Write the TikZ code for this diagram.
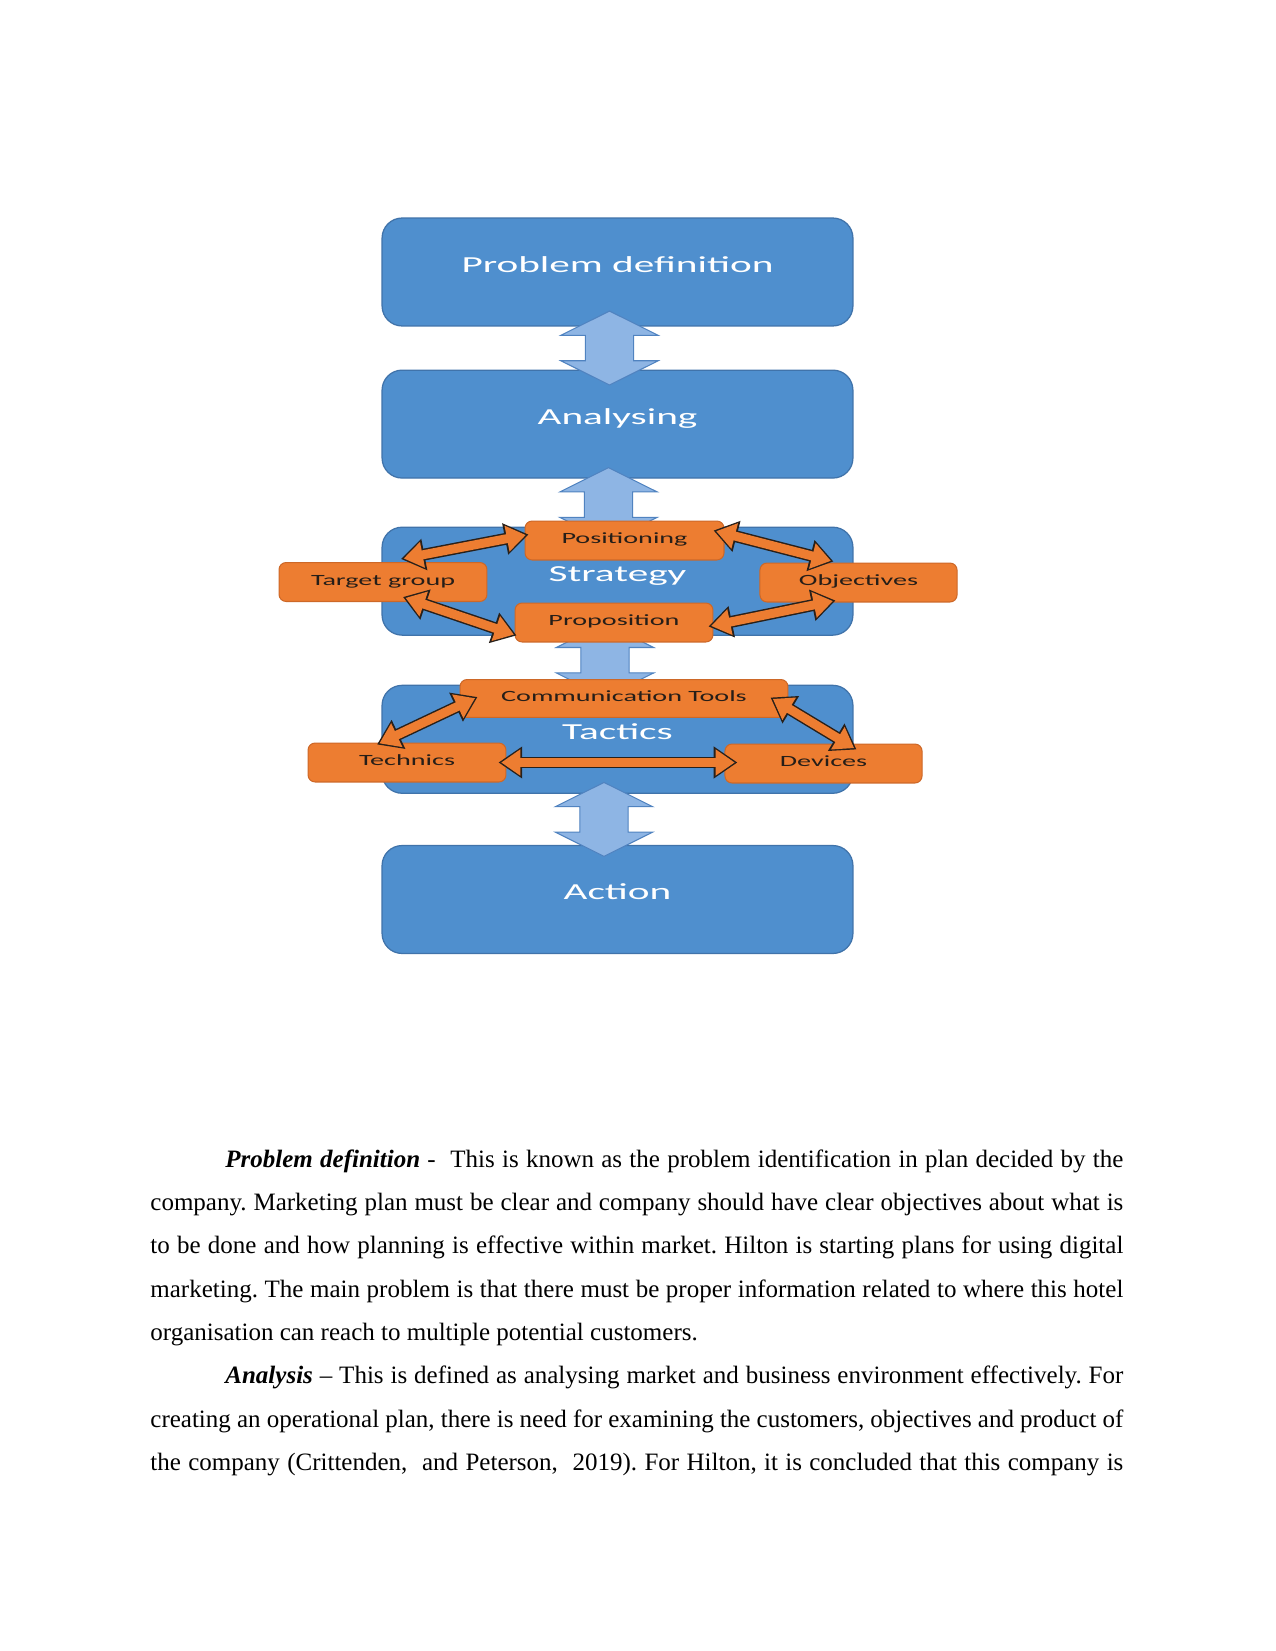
\documentclass[tikz,border=0pt]{standalone}
\usepackage{fontspec}
\setmainfont{Liberation Serif}
\newfontfamily\boxfont{Carlito}
\usepackage{graphicx}
\usetikzlibrary{positioning,calc,arrows.meta,shapes.arrows}

\definecolor{boxblue}{RGB}{79,143,206}
\definecolor{boxline}{RGB}{64,115,170}
\definecolor{pipeblue}{RGB}{142,181,228}
\definecolor{pipeline}{RGB}{80,131,192}
\definecolor{tagorange}{RGB}{237,125,49}
\definecolor{tagline}{RGB}{205,104,40}
\definecolor{tagtext}{RGB}{38,30,24}
\definecolor{rim}{RGB}{40,32,26}

\newcommand{\wide}[1]{\scalebox{1.8}[1]{#1}}

\pgfdeclarelayer{back}
\pgfdeclarelayer{mid}
\pgfsetlayers{back,mid,main}

\begin{document}
\begin{tikzpicture}[
    x=0.48pt, y=-0.48pt,
    stage/.style={draw=boxline, line width=0.6pt, fill=boxblue, rounded corners=9.6pt,
        minimum width=226pt, minimum height=51.8pt, inner sep=0pt, text=white,
        font=\boxfont\fontsize{11}{13}\selectfont, text height=8pt, text depth=8pt},
    tag/.style={draw=tagline, line width=0.5pt, fill=tagorange, rounded corners=3.4pt,
        minimum height=18.7pt, inner sep=0pt, text=tagtext,
        font=\boxfont\fontsize{7.5}{9}\selectfont, text height=6pt, text depth=3pt},
    pipe/.style={double arrow, draw=pipeline, line width=0.5pt, fill=pipeblue,
        shape border rotate=90, minimum height=35.5pt, minimum width=46.1pt,
        double arrow head extend=11.8pt, double arrow tip angle=127,
        inner xsep=11.3pt, inner ysep=0pt},
    link/.style={line width=4.3pt, draw=tagorange,
        {Triangle[width=12pt,length=9.2pt]}-{Triangle[width=12pt,length=9.2pt]},
        shorten <=1.3pt, shorten >=1.3pt,
        preaction={draw=rim, line width=5.7pt, shorten <=0pt, shorten >=0pt,
            {Triangle[width=14.6pt,length=11.4pt]}-{Triangle[width=14.6pt,length=11.4pt]}}},
    body/.style={anchor=base west, text width=467pt, align=justify, inner sep=0pt,
        font=\fontsize{12}{20.8}\selectfont}
]
\useasboundingbox (0,0) rectangle (1275,1651);

% stages
\begin{pgfonlayer}{back}
\fill[white] (0,0) rectangle (1275,1651);
\node[stage] (pd) at (617.5,272) {\wide{Problem definition}};
\node[stage, below=20.6pt of pd] (an) {\wide{Analysing}};
\end{pgfonlayer}
\node[stage, below=23pt of an] (st) {\wide{Strategy}};
\node[stage, below=23.5pt of st] (ta) {\wide{Tactics}};
\begin{pgfonlayer}{back}
\node[stage, below=24.5pt of ta] (ac) {\wide{Action}};
\end{pgfonlayer}

% pipes between stages
\begin{pgfonlayer}{mid}
\node[pipe] (p1) at ($(pd.south)!0.5!(an.north)+(-8,0)$) {};
\node[pipe] (p2) at ($(an.south)!0.5!(st.north)+(-9,2)$) {};
\node[pipe] (p3) at ($(st.south)!0.5!(ta.north)+(-12.5,0)$) {};
\end{pgfonlayer}
\node[pipe] (p4) at ($(ta.south)!0.5!(ac.north)+(-13.5,0)$) {};

% strategy tags
\node[tag, minimum width=95.5pt] (pos) at (624.5,540.5) {\wide{Positioning}};
\node[tag, minimum width=99.8pt] (tg) at (383,582) {\wide{Target group}};
\node[tag, minimum width=94.6pt] (obj) at (858.5,582.5) {\wide{Objectives}};
\node[tag, minimum width=95pt] (prop) at (614,622.5) {\wide{Proposition}};

% tactics tags
\node[tag, minimum width=157.4pt, minimum height=18.2pt] (ct) at (624,698.5) {\wide{Communication Tools}};
\node[tag, minimum width=95pt] (tech) at (407,762.5) {\wide{Technics}};
\node[tag, minimum width=94.6pt] (dev) at (823.5,763.5) {\wide{Devices}};

\draw[link] ($(tg.north)+(18,-3)$) -- ($(pos.west)+(4,-6)$);
\draw[link] ($(tg.south)+(20,-5)$) -- ($(prop.south west)+(2,-7)$);
\draw[link] ($(pos.east)+(-11,-10)$) -- ($(obj.north)+(-25,-1)$);
\draw[link] ($(prop.east)+(-5,4)$) -- ($(obj.south)+(-23,-2)$);
\draw[link] ($(tech.north)+(-30,2)$) -- ($(ct.west)+(18,-1.5)$);
\draw[link] ($(ct.east)+(-18,-1)$) -- ($(dev.north)+(33,6)$);
\draw[link] ($(tech.east)+(-8,0)$) -- ($(dev.west)+(13,-1)$);

% text below the figure
\node[body] (txt) at (150,1167) {\frenchspacing\hspace*{36pt}\textbf{\textit{Problem definition}} -~ This is known as the problem identification in plan decided by the\linebreak
company. Marketing plan must be clear and company should have clear objectives about what is\linebreak
to be done and how planning is effective within market. Hilton is starting plans for using digital\linebreak
marketing. The main problem is that there must be proper information related to where this hotel\linebreak
organisation can reach to multiple potential customers.\par
\hspace*{36pt}\textbf{\textit{Analysis}} – This is defined as analysing market and business environment effectively. For\linebreak
creating an operational plan, there is need for examining the customers, objectives and product of\linebreak
the company (Crittenden,~ and Peterson,~ 2019). For Hilton, it is concluded that this company is\parfillskip=0pt\par};
\end{tikzpicture}
\end{document}
